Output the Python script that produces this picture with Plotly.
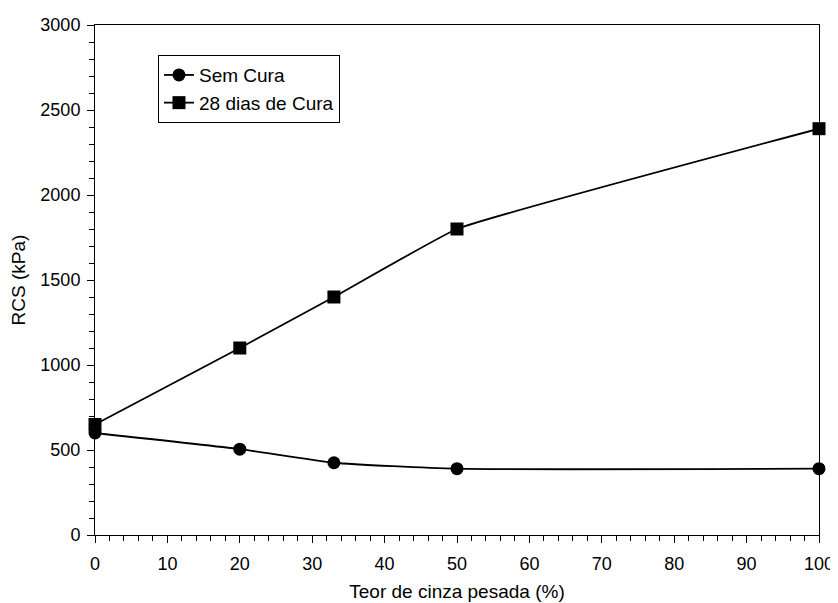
import plotly.graph_objects as go

teor = [0, 20, 33, 50, 100]
sem_cura = [600, 505, 425, 390, 390]
cura_28 = [650, 1100, 1400, 1800, 2390]
x_ticks = [0, 10, 20, 30, 40, 50, 60, 70, 80, 90, 100]
y_ticks = [0, 500, 1000, 1500, 2000, 2500, 3000]

family = "Liberation Sans, Arial, sans-serif"
tick_font = dict(family=family, size=18, color="black")
title_font = dict(family=family, size=19, color="black")
legend_font = dict(family=family, size=19, color="black")

fig = go.Figure()
fig.add_trace(go.Scatter(
    x=teor, y=sem_cura, name="Sem Cura", mode="lines+markers",
    line=dict(color="black", width=1.8, shape="spline", smoothing=0.5),
    marker=dict(symbol="circle", size=13, color="black"),
    cliponaxis=False,
))
fig.add_trace(go.Scatter(
    x=teor, y=cura_28, name="28 dias de Cura", mode="lines+markers",
    line=dict(color="black", width=1.8, shape="spline", smoothing=0.3),
    marker=dict(symbol="square", size=13, color="black"),
    cliponaxis=False,
))

axis_common = dict(
    showline=True, linecolor="black", linewidth=1, mirror=True,
    ticks="outside", ticklen=7, tickwidth=1, tickcolor="black",
    showgrid=False, zeroline=False, tickfont=tick_font, automargin=False,
)
fig.update_xaxes(
    range=[0, 100], tickvals=x_ticks, ticklabelstandoff=5,
    minor=dict(dtick=2, ticks="outside", ticklen=5, tickwidth=1, tickcolor="black", showgrid=False),
    title=dict(text="Teor de cinza pesada (%)", font=title_font, standoff=12),
    **axis_common,
)
fig.update_yaxes(
    range=[0, 3000], tickvals=y_ticks, ticklabelstandoff=3,
    minor=dict(dtick=100, ticks="outside", ticklen=5, tickwidth=1, tickcolor="black", showgrid=False),
    title=dict(text="RCS (kPa)", font=title_font, standoff=15),
    **axis_common,
)
fig.update_layout(
    width=830, height=595,
    margin=dict(l=87, r=19, t=17, b=68),
    plot_bgcolor="white", paper_bgcolor="white",
    font=tick_font,
    legend=dict(
        x=0.087, y=0.941, xanchor="left", yanchor="top",
        bordercolor="black", borderwidth=1, bgcolor="white",
        font=legend_font, tracegroupgap=0, itemwidth=30,
    ),
)
fig.write_html("out.html")
